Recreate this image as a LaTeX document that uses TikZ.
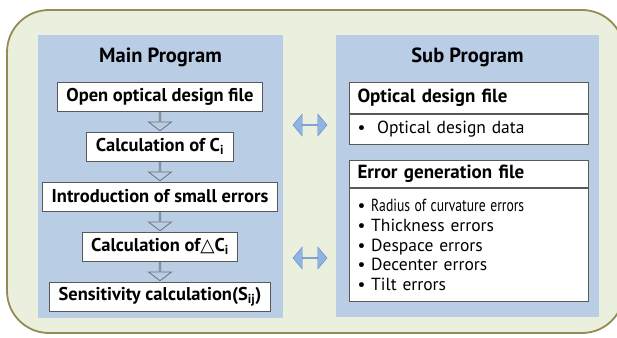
\documentclass[tikz,border=0pt]{standalone}
\usepackage{fontspec}
\setmainfont{PT Sans}
\newfontfamily\symfont{DejaVu Sans}
\usepackage{graphicx}
\usepackage{tikz}
\usetikzlibrary{positioning, shapes.arrows, calc}
\definecolor{framegreen}{RGB}{235, 240, 222}
\definecolor{frameolive}{RGB}{148, 138, 84}
\definecolor{panelblue}{RGB}{185, 205, 229}
\definecolor{linkblue}{RGB}{141, 180, 226}
\definecolor{linkedge}{RGB}{91, 134, 197}
\definecolor{boxgray}{RGB}{89, 89, 89}

\begin{document}
\begin{tikzpicture}[x=1pt, y=-1pt,
  node distance=20pt,
  frame/.style={draw=frameolive, line width=1.8pt, fill=framegreen, rounded corners=42pt},
  panel/.style={fill=panelblue, anchor=north west, inner sep=0pt},
  title/.style={font=\fontsize{20.5}{24}\selectfont\bfseries},
  mbox/.style={draw=boxgray, line width=1pt, fill=white, minimum height=29pt,
               inner xsep=9pt, font=\fontsize{18.5}{22}\selectfont\bfseries},
  flow/.style={single arrow, draw=boxgray!85, line width=0.8pt, fill=panelblue, shape border rotate=270,
               minimum height=18pt, minimum width=23pt, single arrow head extend=6pt,
               single arrow tip angle=105, inner sep=0pt},
  link/.style={double arrow, draw=linkedge, fill=linkblue, minimum height=34pt,
               minimum width=22pt, double arrow head extend=6pt, double arrow tip angle=100, inner sep=0pt},
  shead/.style={draw=boxgray, line width=1pt, fill=white, text width=223pt, inner xsep=8pt,
                align=left, font=\fontsize{19}{22}\selectfont\bfseries},
  sbody/.style={shead, font=\fontsize{17.5}{19.75}\selectfont}]
  \useasboundingbox (0,0) rectangle (617,337);
  \draw[frame] (7,10) rectangle (624,333);
  \node[panel, minimum width=245pt, minimum height=283pt] (mainpanel) at (38,35) {};
  \node[panel, minimum width=263pt, minimum height=282pt] (subpanel)  at (336,35) {};
  \node[title] (maintitle) at (160.5,57) {Main Program};
  \node[title] (subtitle)  at (467.5,57) {Sub Program};
  \node[mbox] (open) at (160,96.5) {Open optical design file};
  \node[mbox, below=of open]  (calc)  {Calculation of C\textsubscript{i}};
  \node[mbox, below=of calc]  (small) {Introduction of small errors};
  \node[mbox, below=of small] (delta) {Calculation of{\symfont\mdseries △}C\textsubscript{i}};
  \node[mbox, below=of delta] (sens)  {Sensitivity calculation(S\textsubscript{ij})};
  \foreach \a/\b in {open/calc, calc/small, small/delta, delta/sens}
    \node[flow] at ($(\a.south)!.5!(\b.north)$) {};
  \node[link] (linktop) at (310,125) {};
  \node[link] (linkbot) at (310,258) {};
  \node[shead, anchor=north west, minimum height=31pt] (odf) at (349,82) {Optical design file};
  \node[sbody, below=0pt of odf, minimum height=30pt] (odfdata) {\textbullet~ Optical design data};
  \node[shead, anchor=north west, minimum height=27pt] (egf) at (349,160) {Error generation file};
  \node[sbody, below=0pt of egf, minimum height=113pt] (egfitems)
    {\textbullet~\scalebox{0.78}[1]{Radius of curvature errors}\\
     \textbullet~Thickness errors\\
     \textbullet~Despace errors\\
     \textbullet~Decenter errors\\
     \textbullet~Tilt errors};
\end{tikzpicture}
\end{document}
